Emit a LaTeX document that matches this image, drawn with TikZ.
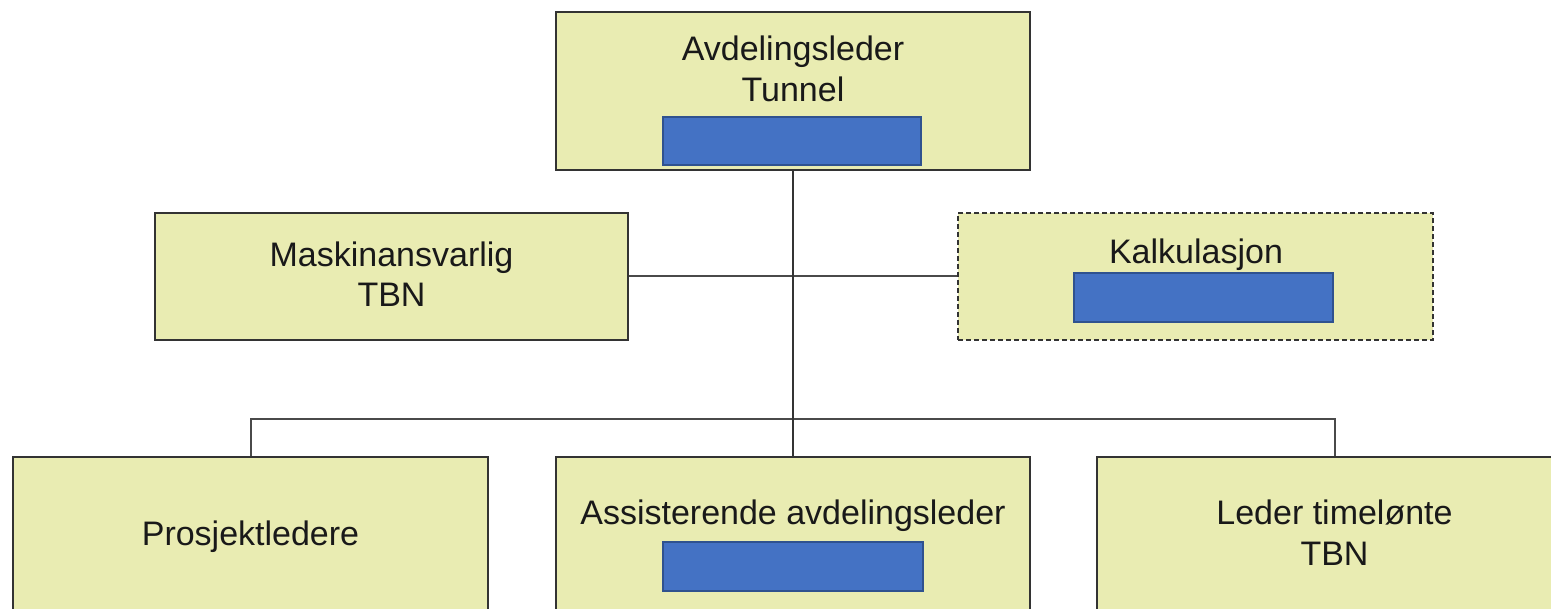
\documentclass[tikz,border=0pt]{standalone}
\usepackage{fontspec}
\setmainfont{Liberation Sans}
\definecolor{boxfill}{HTML}{E9ECB2}
\definecolor{boxline}{HTML}{333333}
\definecolor{conn}{HTML}{4A4A4A}
\definecolor{bluefill}{HTML}{4472C4}
\definecolor{blueline}{HTML}{2F528F}
\begin{document}
\begin{tikzpicture}[x=1pt,y=1pt,
  orgbox/.style={draw=boxline,fill=boxfill,line width=1.5pt,rectangle,inner sep=0pt},
  hidebox/.style={draw=blueline,fill=bluefill,line width=1.2pt,rectangle,inner sep=0pt},
  lbl/.style={font=\fontsize{34}{41}\selectfont,text=black!90,align=center,inner sep=0pt},
  connector/.style={draw=conn,line width=2pt},
  mainline/.style={draw=conn!70!black,line width=2.5pt}]
\useasboundingbox (0,0) rectangle (1551,609);
\clip (0,0) rectangle (1551,609);
\fill[white] (0,0) rectangle (1551,609);
% boxes
\node[orgbox,minimum width=474pt,minimum height=158pt] (top) at (793,518) {};
\node[orgbox,minimum width=473pt,minimum height=127pt] (mask) at (391.5,332.5) {};
\node[orgbox,dashed,dash pattern=on 5pt off 3pt,minimum width=475pt,minimum height=127pt] (kalk) at (1195.5,332.5) {};
\node[orgbox,minimum width=475pt,minimum height=203pt] (prosj) at (250.5,50.5) {};
\node[orgbox,minimum width=474pt,minimum height=203pt] (assist) at (793,50.5) {};
\node[orgbox,minimum width=475pt,minimum height=203pt] (leder) at (1334.5,50.5) {};
% connectors
\coordinate (bus) at (793,190);
\draw[connector] (mask.east) -- (kalk.west);
\draw[connector] (prosj.north) |- (bus) -| (leder.north);
\draw[mainline] (top.south) -- (assist.north);
% texts
\node[lbl] (ttop) at (793,540) {Avdelingsleder\\Tunnel};
\node[lbl,anchor=base] (tmask1) at (391.5,342) {Maskinansvarlig};
\node[lbl,anchor=base] (tmask2) at (391.5,302) {TBN};
\node[lbl,anchor=base] (tkalk) at (1196,345) {Kalkulasjon};
\node[lbl,anchor=base] (tprosj) at (250.5,63) {Prosjektledere};
\node[lbl,anchor=base] (tassist) at (793,84) {Assisterende avdelingsleder};
\node[lbl,anchor=base] (tleder1) at (1334.5,84) {Leder timelønte};
\node[lbl,anchor=base] (tleder2) at (1334.5,43) {TBN};
% covering rectangles
\node[hidebox,minimum width=258pt,minimum height=48pt] (b1) at (792,468) {};
\node[hidebox,minimum width=259pt,minimum height=49pt] (b2) at (1203.5,311.5) {};
\node[hidebox,minimum width=260pt,minimum height=49pt] (b3) at (793,42.5) {};
\end{tikzpicture}
\end{document}
